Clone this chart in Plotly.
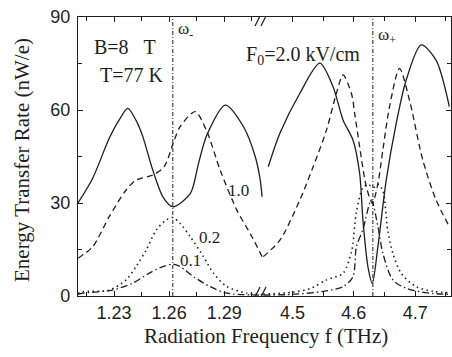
import plotly.graph_objects as go

# ---------------- data ----------------
# Left segment, around omega_minus (THz)
f2_lo_x = [1.2104, 1.2184, 1.2274, 1.2330, 1.2375, 1.2428, 1.2457, 1.2511, 1.2566, 1.2620,
           1.2715, 1.2760, 1.2806, 1.2906, 1.3005, 1.3069, 1.3096, 1.3106]
f2_lo_y = [30.0, 38.0, 50.9, 57.0, 60.5, 55.7, 51.4, 40.6, 32.0, 28.8,
           33.0, 42.8, 52.0, 61.6, 54.6, 44.9, 37.4, 32.0]

f10_lo_x = [1.2104, 1.2184, 1.2274, 1.2366, 1.2420, 1.2511, 1.2573, 1.2628, 1.2660, 1.2742,
            1.2806, 1.2878, 1.2969, 1.3051, 1.3106]
f10_lo_y = [12.2, 15.9, 25.6, 34.2, 37.4, 39.0, 41.7, 50.3, 54.6, 59.5,
            53.0, 40.6, 27.7, 19.1, 12.7]

f02_lo_x = [1.2104, 1.2130, 1.2274, 1.2366, 1.2420, 1.2475, 1.2530, 1.2584, 1.2620, 1.2660,
            1.2715, 1.2787, 1.2842, 1.2915, 1.3024, 1.3106]
f02_lo_y = [0.8, 1.4, 1.9, 5.2, 9.5, 14.8, 21.3, 24.5, 25.3, 23.4,
            19.1, 12.7, 7.3, 3.0, 0.9, 0.5]

f01_lo_x = [1.2104, 1.2130, 1.2290, 1.2400, 1.2490, 1.2566, 1.2620, 1.2660, 1.2733, 1.2824,
            1.2915, 1.3106]
f01_lo_y = [0.5, 0.9, 1.9, 4.1, 7.3, 9.5, 10.3, 9.5, 6.2, 3.0, 0.9, 0.3]

# Right segment, around omega_plus (THz)
f2_hi_x = [4.4603, 4.4793, 4.5119, 4.5444, 4.5660, 4.5823, 4.5985, 4.6094, 4.6148, 4.6229,
           4.6301, 4.6392, 4.6528, 4.6691, 4.6854, 4.7098, 4.7341, 4.7558]
f2_hi_y = [41.7, 52.5, 65.4, 75.1, 67.5, 56.8, 50.3, 39.6, 24.5, 9.5,
           4.1, 15.9, 37.4, 55.7, 69.7, 81.0, 76.1, 61.1]

f10_hi_x = [4.4522, 4.4793, 4.5119, 4.5335, 4.5553, 4.5715, 4.5823, 4.5959, 4.6013, 4.6094,
            4.6203, 4.6301, 4.6392, 4.6473, 4.6582, 4.6745, 4.6907, 4.7124, 4.7341, 4.7558]
f10_hi_y = [12.7, 18.0, 31.0, 41.7, 53.5, 65.4, 71.3, 65.4, 58.9, 48.2,
            35.3, 29.9, 36.3, 47.1, 61.1, 73.4, 63.2, 43.9, 31.0, 22.4]

f02_hi_x = [4.4522, 4.5000, 4.5300, 4.5553, 4.5823, 4.5959, 4.5985, 4.6041, 4.6148, 4.6230,
            4.6320, 4.6400, 4.6473, 4.6554, 4.6636, 4.6772, 4.7016, 4.7300, 4.7558]
f02_hi_y = [0.6, 1.2, 2.5, 5.2, 7.3, 14.0, 17.0, 27.0, 35.0, 36.0,
            35.0, 36.0, 34.0, 21.0, 13.8, 7.3, 3.0, 1.5, 1.0]

f01_hi_x = [4.4522, 4.5000, 4.5500, 4.5823, 4.5985, 4.6041, 4.6148, 4.6285, 4.6392, 4.6473,
            4.6636, 4.6854, 4.7200, 4.7558]
f01_hi_y = [0.3, 0.5, 1.5, 3.0, 6.2, 15.9, 21.5, 31.0, 22.4, 13.8,
            5.2, 2.5, 1.0, 0.5]

omega_minus = 1.262
omega_plus = 4.631

x_lo_range = [1.2104, 1.3111]
x_hi_range = [4.4517, 4.7585]
y_range = [0, 90]
x_lo_ticks = [1.23, 1.26, 1.29]
x_hi_ticks = [4.5, 4.6, 4.7]
y_ticks = [0, 30, 60, 90]

# ---------------- layout helpers ----------------
W, H = 452, 357
L, R, T, B = 78, 451, 17, 296
SPLIT = (263 - L) / (R - L)


def px(x):
    return (x - L) / (R - L)


def py(y):
    return (B - y) / (B - T)


INK = "#1e1e1e"
SANS = "Liberation Sans"
SERIF = "Liberation Serif"

styles = {
    "2.0": dict(color=INK, width=1.3, dash="solid"),
    "1.0": dict(color=INK, width=1.3, dash="6px,4px"),
    "0.2": dict(color=INK, width=1.6, dash="1.5px,3.5px"),
    "0.1": dict(color=INK, width=1.3, dash="7px,3px,1.5px,3px"),
}

series = [
    ("2.0", f2_lo_x, f2_lo_y, f2_hi_x, f2_hi_y),
    ("1.0", f10_lo_x, f10_lo_y, f10_hi_x, f10_hi_y),
    ("0.2", f02_lo_x, f02_lo_y, f02_hi_x, f02_hi_y),
    ("0.1", f01_lo_x, f01_lo_y, f01_hi_x, f01_hi_y),
]

fig = go.Figure()
for name, xl, yl, xh, yh in series:
    fig.add_trace(go.Scatter(x=xl, y=yl, mode="lines", line=dict(shape="spline", smoothing=0.8, **styles[name]),
                             xaxis="x", yaxis="y", showlegend=False, hoverinfo="skip"))
    fig.add_trace(go.Scatter(x=xh, y=yh, mode="lines", line=dict(shape="spline", smoothing=0.8, **styles[name]),
                             xaxis="x2", yaxis="y2", showlegend=False, hoverinfo="skip"))

# resonance markers
vline = dict(color=INK, width=1, dash="4px,2px,1px,2px")
fig.add_trace(go.Scatter(x=[omega_minus, omega_minus], y=[y_range[0], y_range[1]],
                         mode="lines", line=vline, xaxis="x", yaxis="y", showlegend=False, hoverinfo="skip"))
fig.add_trace(go.Scatter(x=[omega_plus, omega_plus], y=[y_range[0], y_range[1]],
                         mode="lines", line=vline, xaxis="x2", yaxis="y2", showlegend=False, hoverinfo="skip"))

axis_common = dict(showline=True, linecolor=INK, linewidth=1.2, ticks="inside", ticklen=5,
                   tickcolor=INK, tickwidth=1, showgrid=False, zeroline=False,
                   tickfont=dict(family=SANS, size=18, color=INK))

fig.update_layout(
    width=W, height=H,
    margin=dict(l=L, r=W - R, t=T, b=H - B),
    paper_bgcolor="white", plot_bgcolor="white",
    xaxis=dict(domain=[0, SPLIT], range=x_lo_range, anchor="y", mirror="ticks",
               tickmode="array", tickvals=x_lo_ticks, ticktext=[f"{v:.2f}" for v in x_lo_ticks],
               minor=dict(tickvals=[1.215, 1.245, 1.275, 1.305], ticks="inside", ticklen=4,
                          tickcolor=INK),
               **axis_common),
    xaxis2=dict(domain=[SPLIT, 1], range=x_hi_range, anchor="y2", mirror="ticks",
                tickmode="array", tickvals=x_hi_ticks, ticktext=[f"{v:.1f}" for v in x_hi_ticks],
                minor=dict(tickvals=[4.55, 4.65, 4.75], ticks="inside", ticklen=4, tickcolor=INK),
                **axis_common),
    yaxis=dict(domain=[0, 1], range=y_range, anchor="x", tickmode="array", tickvals=y_ticks,
               minor=dict(tickvals=[15, 45, 75], ticks="inside", ticklen=4, tickcolor=INK),
               ticklabelstandoff=3, **axis_common),
    yaxis2=dict(domain=[0, 1], range=y_range, anchor="x2", side="right", showticklabels=False,
                tickmode="array", tickvals=y_ticks,
                minor=dict(tickvals=[15, 45, 75], ticks="inside", ticklen=4, tickcolor=INK),
                **axis_common),
)

# axis break marks "//"
for yc in (B - 4, T + 4):
    for dx in (-6, 0):
        fig.add_shape(type="line", xref="paper", yref="paper",
                      x0=px(263 + dx - 2), y0=py(yc + 5), x1=px(263 + dx + 3), y1=py(yc - 5),
                      line=dict(color=INK, width=1.3))


def note(text, x, y, size, xanchor="left", family=SERIF, angle=0):
    fig.add_annotation(text=text, x=px(x), y=py(y), xref="paper", yref="paper",
                       xanchor=xanchor, yanchor="middle", showarrow=False, textangle=angle,
                       font=dict(family=family, size=size, color=INK))


note("B=8\u00a0\u00a0\u00a0T", 92, 47, 20)
note("T=77 K", 98, 75, 20)
note("F<sub>0</sub>=2.0 kV/cm", 244, 56, 20)
note("ω<sub>-</sub>", 176, 30, 17)
note("ω<sub>+</sub>", 376, 36, 17)
note("1.0", 238, 190, 17, xanchor="center")
note("0.2", 209, 237, 17, xanchor="center")
note("0.1", 190, 260, 17, xanchor="center")
note("Energy Transfer Rate (nW/e)", 22, 160, 21, xanchor="center", angle=-90)
note("Radiation Frequency f (THz)", 266, 336, 21, xanchor="center")

fig.write_html("out.html")
